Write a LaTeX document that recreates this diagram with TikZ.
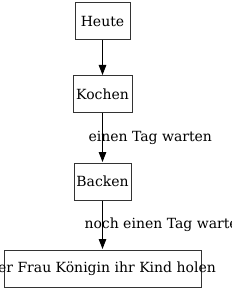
\documentclass[tikz,border=0pt]{standalone}
\usepackage{fontspec}
\setmainfont{DejaVu Serif}
\usetikzlibrary{arrows.meta}
\tikzset{
  box/.style={draw=black!80, line width=1pt, inner sep=0pt, minimum height=37pt, font=\fontsize{14}{16}\selectfont},
  edge/.style={draw=black, line width=1pt, -{Triangle[length=10pt,width=7.5pt]}, shorten >=0.5pt},
  lbl/.style={font=\fontsize{14}{16}\selectfont, inner sep=0pt, anchor=west}
}
\begin{document}
\begin{tikzpicture}[x=1pt,y=-1pt]
\useasboundingbox (0,0) rectangle (232,291);
\node[box, minimum width=55pt] (heute) at (102.5,21.5) {Heute};
\node[box, minimum width=59pt] (kochen) at (102.5,94.5) {Kochen};
\node[box, minimum width=57pt] (backen) at (102.5,181.5) {Backen};
\node[box, minimum width=197pt] (koenigin) at (102.5,268.5) {\makebox[0pt]{der Frau Königin ihr Kind holen}};
\draw[edge] (heute) -- (kochen);
\draw[edge] (kochen) -- node[lbl, at start, xshift=-14.5pt, yshift=-24pt] (l1) {einen Tag warten} (backen);
\draw[edge] (backen) -- node[lbl, at start, xshift=-18.5pt, yshift=-24pt] (l2) {noch einen Tag warten} (koenigin);
\end{tikzpicture}
\end{document}
